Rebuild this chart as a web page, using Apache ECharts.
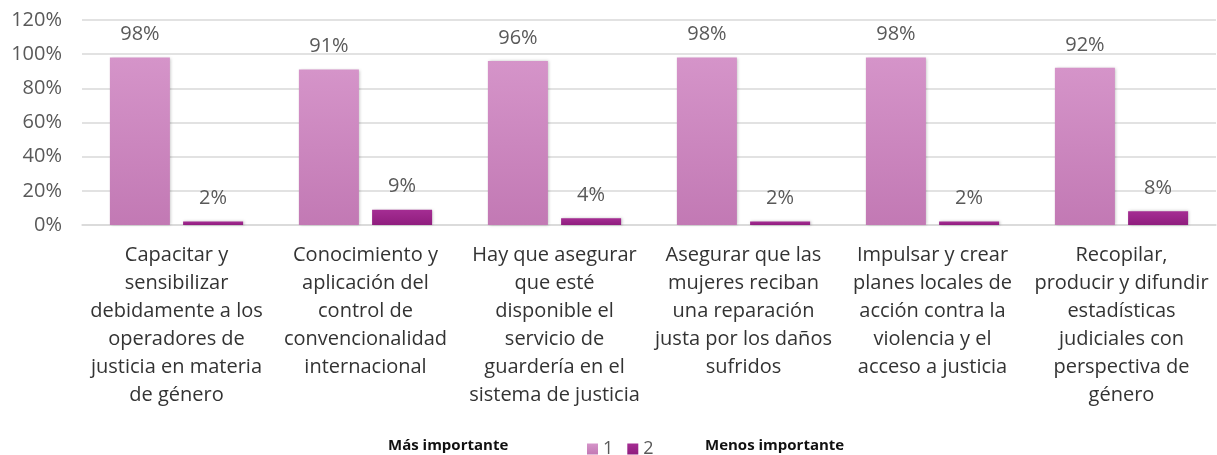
<!DOCTYPE html>
<html>
<head>
<meta charset="utf-8">
<script src="https://cdn.jsdelivr.net/npm/echarts@6/dist/echarts.min.js"></script>
<style>
  html, body { margin: 0; padding: 0; background: #fff; }
  #chart { width: 1217px; height: 455px; }
</style>
</head>
<body>
<div id="chart"></div>
<script>
// categorias (ya partidas en lineas como en el original)
var categorias = [
  'Capacitar y\nsensibilizar\ndebidamente a los\noperadores de\njusticia en materia\nde género',
  'Conocimiento y\naplicación del\ncontrol de\nconvencionalidad\ninternacional',
  'Hay que asegurar\nque esté\ndisponible el\nservicio de\nguardería en el\nsistema de justicia',
  'Asegurar que las\nmujeres reciban\nuna reparación\njusta por los daños\nsufridos',
  'Impulsar y crear\nplanes locales de\nacción contra la\nviolencia y el\nacceso a justicia',
  'Recopilar,\nproducir y difundir\nestadísticas\njudiciales con\nperspectiva de\ngénero'
];
var serie1 = [98, 91, 96, 98, 98, 92];   // 1 = más importante
var serie2 = [2, 9, 4, 2, 2, 8];         // 2 = menos importante
var nombres = ['1', '2'];

var myChart = echarts.init(document.getElementById('chart'));

var etiqueta = {
  show: true,
  position: 'top',
  distance: 13,
  formatter: '{c}%',
  color: '#595959',
  fontSize: 20,
  fontFamily: 'Open Sans'
};

var option = {
  animation: false,
  grid: { left: 82, right: 1, top: 20, bottom: 230 },
  legend: {
    top: 435,
    left: 582,
    itemWidth: 11,
    itemHeight: 11,
    itemGap: 14,
    icon: 'rect',
    textStyle: { color: '#595959', fontSize: 18, fontFamily: 'Open Sans' },
    data: nombres
  },
  graphic: [
    { type: 'text', left: 388, top: 438, style: { text: 'Más importante', fill: '#111', font: 'bold 15px "Open Sans"' } },
    { type: 'text', left: 705, top: 438, style: { text: 'Menos importante', fill: '#111', font: 'bold 15px "Open Sans"' } }
  ],
  xAxis: {
    type: 'category',
    data: categorias,
    axisLine: { show: true, lineStyle: { color: '#d9d9d9', width: 1.5 } },
    axisTick: { show: false },
    axisLabel: {
      interval: 0,
      margin: 16,
      color: '#333',
      fontSize: 20,
      lineHeight: 28,
      fontFamily: 'Open Sans'
    }
  },
  yAxis: {
    type: 'value',
    min: 0,
    max: 120,
    interval: 20,
    axisLine: { show: false },
    axisTick: { show: false },
    axisLabel: {
      formatter: '{value}%',
      margin: 20,
      color: '#595959',
      fontSize: 20,
      fontFamily: 'Open Sans'
    },
    splitLine: { lineStyle: { color: '#d9d9d9', width: 1.5 } }
  },
  series: [
    {
      name: nombres[0],
      type: 'bar',
      barWidth: 60,
      barGap: '22%',
      data: serie1,
      label: etiqueta,
      itemStyle: {
        color: new echarts.graphic.LinearGradient(0, 0, 0, 1, [
          { offset: 0, color: '#d594c9' },
          { offset: 1, color: '#c279b4' }
        ]),
        shadowColor: 'rgba(0,0,0,0.25)',
        shadowBlur: 3,
        shadowOffsetX: 1
      }
    },
    {
      name: nombres[1],
      type: 'bar',
      barWidth: 60,
      data: serie2,
      label: etiqueta,
      itemStyle: {
        color: new echarts.graphic.LinearGradient(0, 0, 0, 1, [
          { offset: 0, color: '#a52d93' },
          { offset: 1, color: '#8f1d7e' }
        ]),
        shadowColor: 'rgba(0,0,0,0.25)',
        shadowBlur: 3,
        shadowOffsetX: 1
      }
    }
  ]
};

myChart.setOption(option);
</script>
</body>
</html>
